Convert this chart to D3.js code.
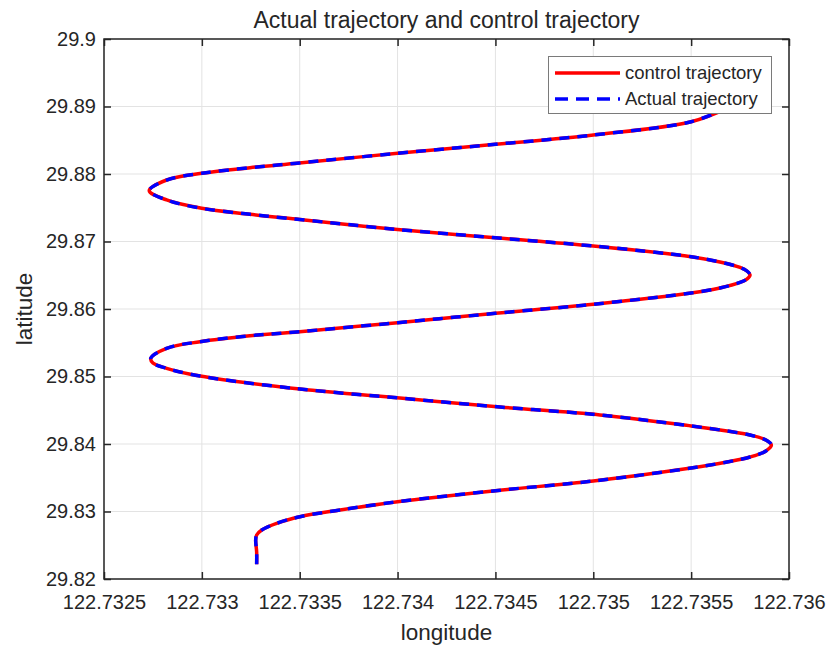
<!DOCTYPE html>
<html>
<head>
<meta charset="utf-8">
<script src="https://cdn.jsdelivr.net/npm/d3@7"></script>
<style>
  body { margin: 0; background: #fff; }
  text { font-family: "Liberation Sans", Arial, sans-serif; fill: #262626; }
</style>
</head>
<body>
<div id="chart"></div>
<script>
var w = 828,
    h = 647;

// trajectory (longitude, latitude)
var lon = [
  122.73328, 122.73328, 122.733275, 122.73328, 122.733306, 122.733382, 122.733501, 122.733706,
  122.734, 122.7345, 122.735, 122.7355, 122.735683, 122.735801, 122.735882, 122.73591,
  122.735882, 122.735801, 122.735683, 122.7355, 122.735034, 122.734523, 122.734012, 122.733501, 122.732991,
  122.73282, 122.73275, 122.732739, 122.73282, 122.732991, 122.733246, 122.7335, 122.734,
  122.7345, 122.735, 122.7355, 122.735647, 122.73575, 122.735785, 122.735801, 122.735785, 122.73575, 122.735647,
  122.7355, 122.735, 122.7345, 122.734, 122.7335, 122.733246, 122.732999, 122.73282,
  122.732731, 122.73282, 122.732999, 122.733246, 122.733498, 122.734, 122.7345, 122.735,
  122.7355, 122.735683
];
var lat = [
  29.82218, 29.8240, 29.82578, 29.82652, 29.82726, 29.82825, 29.82923, 29.83022,
  29.83145, 29.83308, 29.83452, 29.83644, 29.83733, 29.83807, 29.83896, 29.83985,
  29.84059, 29.84133, 29.84193, 29.84267, 29.8443, 29.84548, 29.84681, 29.84815, 29.85007,
  29.85121, 29.852, 29.8527, 29.85418, 29.85516, 29.85604, 29.85664, 29.85797,
  29.85936, 29.8607, 29.86237, 29.86311, 29.86393, 29.86444, 29.86504, 29.86563, 29.86615, 29.86696,
  29.86775, 29.86933, 29.87055, 29.87178, 29.87326, 29.87403, 29.87492, 29.87615,
  29.87753, 29.87911, 29.8801, 29.88093, 29.88163, 29.88307, 29.8844, 29.88578,
  29.88775, 29.88973
];

var xTicks = [122.7325, 122.733, 122.7335, 122.734, 122.7345, 122.735, 122.7355, 122.736];
var yTicks = [29.82, 29.83, 29.84, 29.85, 29.86, 29.87, 29.88, 29.89, 29.9];

var series = [
  {name: "control trajectory", color: "#ff0000", dash: null},
  {name: "Actual trajectory", color: "#0000ff", dash: "10,8"}
];

var points = lon.map(function(d, i) { return [d, lat[i]]; });

var pLeft = 104, pRight = 789, pTop = 39, pBottom = 579;

var x = d3.scaleLinear().domain([122.7325, 122.736]).range([pLeft, pRight]);
var y = d3.scaleLinear().domain([29.82, 29.9]).range([pBottom, pTop]);

var svg = d3.select("#chart").append("svg")
    .attr("width", w)
    .attr("height", h);

// grid
svg.append("g").selectAll("line").data(xTicks).enter().append("line")
    .attr("x1", function(d) { return x(d); })
    .attr("x2", function(d) { return x(d); })
    .attr("y1", pTop).attr("y2", pBottom)
    .attr("stroke", "#e3e3e3").attr("stroke-width", 1);

svg.append("g").selectAll("line").data(yTicks).enter().append("line")
    .attr("y1", function(d) { return y(d); })
    .attr("y2", function(d) { return y(d); })
    .attr("x1", pLeft).attr("x2", pRight)
    .attr("stroke", "#e3e3e3").attr("stroke-width", 1);

// trajectory
var line = d3.line()
    .x(function(d) { return x(d[0]); })
    .y(function(d) { return y(d[1]); })
    .curve(d3.curveCatmullRom.alpha(0.5));

series.forEach(function(s) {
  svg.append("path")
      .datum(points)
      .attr("d", line)
      .attr("fill", "none")
      .attr("stroke", s.color)
      .attr("stroke-width", 3.5)
      .attr("stroke-dasharray", s.dash);
});

// axes, ticks inward, box on
var fmt = function(d) { return String(+d.toFixed(4)); };

svg.append("g")
    .attr("transform", "translate(0," + pBottom + ")")
    .call(d3.axisBottom(x).tickValues(xTicks).tickFormat(fmt).tickSizeInner(-7).tickSizeOuter(0).tickPadding(16));
svg.append("g")
    .attr("transform", "translate(0," + pTop + ")")
    .call(d3.axisTop(x).tickValues(xTicks).tickFormat("").tickSizeInner(-7).tickSizeOuter(0));
svg.append("g")
    .attr("transform", "translate(" + pLeft + ",0)")
    .call(d3.axisLeft(y).tickValues(yTicks).tickFormat(fmt).tickSizeInner(-7).tickSizeOuter(0).tickPadding(8));
svg.append("g")
    .attr("transform", "translate(" + pRight + ",0)")
    .call(d3.axisRight(y).tickValues(yTicks).tickFormat("").tickSizeInner(-7).tickSizeOuter(0));

svg.selectAll(".domain").remove();
svg.selectAll(".tick line").attr("stroke", "#262626").attr("stroke-width", 1.5);
svg.selectAll(".tick text")
    .style("font-family", "'Liberation Sans', Arial, sans-serif")
    .style("font-size", "20px")
    .attr("fill", "#262626");

svg.append("rect")
    .attr("x", pLeft).attr("y", pTop)
    .attr("width", pRight - pLeft).attr("height", pBottom - pTop)
    .attr("fill", "none").attr("stroke", "#262626").attr("stroke-width", 1.5);

// labels
svg.append("text")
    .attr("x", (pLeft + pRight) / 2).attr("y", 28)
    .attr("text-anchor", "middle")
    .style("font-size", "23px")
    .text("Actual trajectory and control trajectory");

svg.append("text")
    .attr("x", (pLeft + pRight) / 2).attr("y", 640)
    .attr("text-anchor", "middle")
    .style("font-size", "22.5px")
    .text("longitude");

svg.append("text")
    .attr("transform", "translate(32," + (pTop + pBottom) / 2 + ") rotate(-90)")
    .attr("text-anchor", "middle")
    .style("font-size", "22.5px")
    .text("latitude");

// legend
var legend = svg.append("g");
legend.append("rect")
    .attr("x", 548.5).attr("y", 56.5)
    .attr("width", 223).attr("height", 57)
    .attr("fill", "#fff").attr("stroke", "#7a7a7a").attr("stroke-width", 1);

var rows = legend.selectAll("g").data(series).enter().append("g")
    .attr("transform", function(d, i) { return "translate(0," + (73 + i * 26) + ")"; });
rows.append("line")
    .attr("x1", 555).attr("x2", 620)
    .attr("stroke", function(d) { return d.color; })
    .attr("stroke-width", 3.5)
    .attr("stroke-dasharray", function(d) { return d.dash ? "13,8" : null; });
rows.append("text")
    .attr("x", 625).attr("dy", "0.35em")
    .style("font-size", "18.5px")
    .text(function(d) { return d.name; });
</script>
</body>
</html>
